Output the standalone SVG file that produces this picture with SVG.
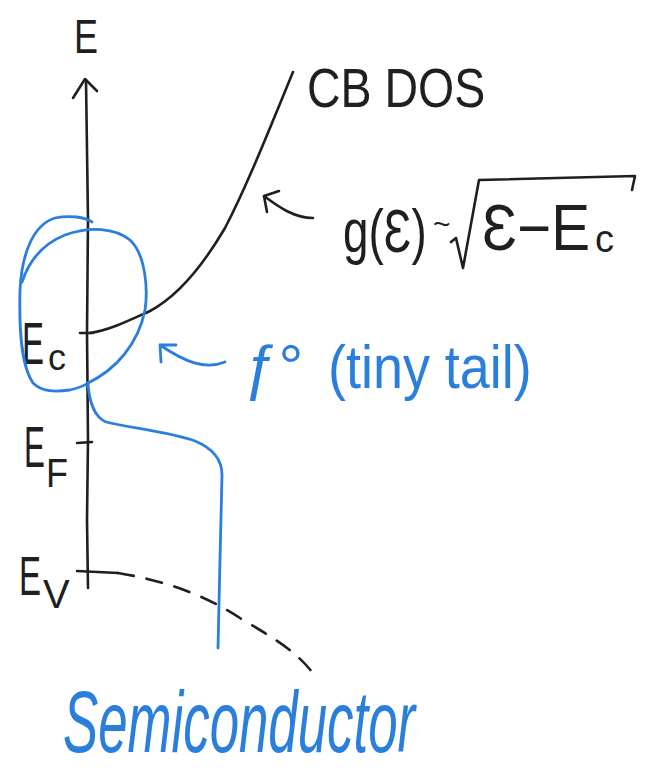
<svg xmlns="http://www.w3.org/2000/svg" width="652" height="771" viewBox="0 0 652 771">
<style>
.k{fill:none;stroke:#1e1f1e;stroke-width:2.6;stroke-linecap:round;stroke-linejoin:round}
.b{fill:none;stroke:#2b7fdc;stroke-width:2.8;stroke-linecap:round;stroke-linejoin:round}
.tk{fill:#1e1f1e;font-family:"Liberation Sans","DejaVu Sans",sans-serif}
.tb{fill:#2b7fdc;font-family:"Liberation Sans","DejaVu Sans",sans-serif}
</style>
<rect width="652" height="771" fill="#ffffff"/>
<g id="axis">
<path class="k" d="M88,588 L87,520 L88,440 L87,333 L88,220 L86,80"/>
<path class="k" d="M73,98 L85,79 L97,91"/>
<path class="k" d="M80,333 L93,333"/>
<path class="k" d="M77,443 L92,442"/>
<path class="k" d="M77,571 L118,573"/>
<text class="tk" transform="translate(74,53) scale(0.75,1)" font-size="48">E</text>
</g>
<g id="cb-dos">
<path class="k" d="M90,333 C110,330 130,320 150,311 C180,295 205,262 225,228 C245,190 265,140 293,72"/>
<text class="tk" transform="translate(307,107) scale(0.83,1)" font-size="56">CB DOS</text>
</g>
<g id="dos-formula">
<path class="k" d="M313,218 C295,218 280,208 264,196 M264,196 L279,191 M264,196 L267,212"/>
<path class="k" d="M451,242 L456,238 L463,268 L479,180 L635,176 L632,190"/>
<text class="tk" transform="translate(343,252) scale(0.74,1)" font-size="62">g(Ɛ)</text>
<text class="tk" x="433" y="234" font-size="30">~</text>
<text class="tk" transform="translate(482,250) scale(0.91,1)" font-size="64">Ɛ−E</text>
<text class="tk" x="595" y="252" font-size="38">c</text>
</g>
<g id="level-labels">
<text class="tk" transform="translate(22,364) scale(0.55,1)" font-size="60">E</text>
<text class="tk" x="48" y="370" font-size="36">c</text>
<text class="tk" transform="translate(24,467) scale(0.54,1)" font-size="58">E</text>
<text class="tk" transform="translate(46,487) scale(0.9,1)" font-size="40">F</text>
<text class="tk" transform="translate(19,595) scale(0.59,1)" font-size="56">E</text>
<text class="tk" x="43" y="608" font-size="40">V</text>
</g>
<g id="valence-band">
<path class="k" d="M118,573 C160,580 200,592 240,618 C270,636 295,650 312,672" stroke-dasharray="16 13"/>
</g>
<g id="fermi">
<path class="b" d="M218,648 L220,560 L222,475 C222,458 212,448 195,441 C170,432 130,428 106,422 C94,417 89,400 88,383"/>
<path class="b" d="M88,383 C115,370 138,345 145,310 C148,290 146,255 130,240 C115,228 90,226 65,235 C45,243 30,258 22,282"/>
<path class="b" d="M92,222 C85,217 70,215 55,218 C35,224 22,250 20,290 C19,330 21,365 33,383 C42,392 55,392 70,390 C78,388 84,386 88,383"/>
</g>
<g id="tail-label">
<path class="b" d="M225,362 C205,370 185,362 160,345 M176,345 L160,345 L161,362"/>
<text class="tb" x="244" y="388" font-size="62">ƒ°</text>
<text class="tb" transform="translate(328,388) scale(0.87,1)" font-size="62">(tiny tail)</text>
</g>
<g id="semiconductor">
<text class="tb" transform="translate(63,752) scale(0.6,1)" font-size="88" font-style="italic">Semiconductor</text>
</g>
</svg>
